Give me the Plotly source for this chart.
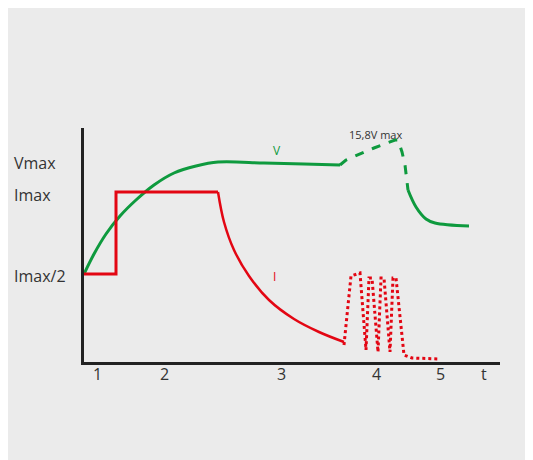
import plotly.graph_objects as go

# Schematic charging curve; coordinates in plot units (x 0-416, y 0-234)
v_solid_x = [0, 10, 22, 36, 52, 70, 90, 112, 134, 180, 220, 256]
v_solid_y = [88, 108, 128, 146, 162, 177, 189, 196, 200, 199, 198, 197]
v_dash_x = [256, 262, 290, 311, 314, 318, 321, 324]
v_dash_y = [197, 202, 214, 222, 222, 210, 197, 172]
v_tail_x = [324, 332, 342, 351, 385]
v_tail_y = [172, 155, 143, 139, 136]

i_step_x = [0, 32, 32, 134]
i_step_y = [88, 88, 170, 170]
i_decay_x = [134, 140, 150, 165, 185, 210, 235, 260]
i_decay_y = [170, 140, 112, 86, 62, 43, 30, 20]
i_pulse_x = [260, 267, 276, 282, 285, 288, 294, 297, 300, 306, 309, 312, 320, 328, 356]
i_pulse_y = [17, 86, 89, 12, 84, 84, 10, 84, 84, 10, 84, 84, 7, 4, 3]

y_labels = ["Vmax", "Imax", "Imax/2"]
y_label_pos = [199, 167, 86]
x_labels = ["1", "2", "3", "4", "5", "t"]
x_label_pos = [13, 80, 197, 292, 356, 400]

GREEN = "#0e9a3e"
RED = "#e30613"

fig = go.Figure()
fig.add_trace(go.Scatter(x=v_solid_x, y=v_solid_y, mode="lines",
                         line=dict(color=GREEN, width=3, shape="spline")))
fig.add_trace(go.Scatter(x=v_dash_x, y=v_dash_y, mode="lines",
                         line=dict(color=GREEN, width=3, dash="dash")))
fig.add_trace(go.Scatter(x=v_tail_x, y=v_tail_y, mode="lines",
                         line=dict(color=GREEN, width=3, shape="spline")))
fig.add_trace(go.Scatter(x=i_step_x, y=i_step_y, mode="lines",
                         line=dict(color=RED, width=3)))
fig.add_trace(go.Scatter(x=i_decay_x, y=i_decay_y, mode="lines",
                         line=dict(color=RED, width=2.5, shape="spline")))
fig.add_trace(go.Scatter(x=i_pulse_x, y=i_pulse_y, mode="lines",
                         line=dict(color=RED, width=3, dash="dot")))

font = dict(family="Open Sans", size=16, color="#333333")
# labels outside the plot area use paper x coordinates (plot width 416 px)
for lab, y in zip(y_labels, y_label_pos):
    fig.add_annotation(xref="paper", x=-72 / 416, y=y, text=lab,
                       showarrow=False, xanchor="left", font=font)
for lab, x in zip(x_labels, x_label_pos):
    fig.add_annotation(x=x, yref="paper", y=-25 / 234, text=lab,
                       showarrow=False, font=font)
fig.add_annotation(x=193, y=212, text="V", showarrow=False,
                   font=dict(family="Open Sans", size=12, color=GREEN))
fig.add_annotation(x=190, y=86, text="I", showarrow=False,
                   font=dict(family="Open Sans", size=12, color=RED))
fig.add_annotation(x=291, yref="paper", y=237 / 234, text="15,8V max",
                   showarrow=False,
                   font=dict(family="Open Sans", size=11, color="#333333"))

fig.update_layout(
    width=533, height=460,
    margin=dict(l=76, r=41, t=120, b=106),
    paper_bgcolor="#ebebeb", plot_bgcolor="#ebebeb",
    showlegend=False,
    xaxis=dict(range=[0, 416], showgrid=False, zeroline=False,
               showticklabels=False, showline=True, linecolor="#222222",
               linewidth=3),
    yaxis=dict(range=[0, 234], showgrid=False, zeroline=False,
               showticklabels=False, showline=True, linecolor="#222222",
               linewidth=3),
)

fig.write_html("out.html")
